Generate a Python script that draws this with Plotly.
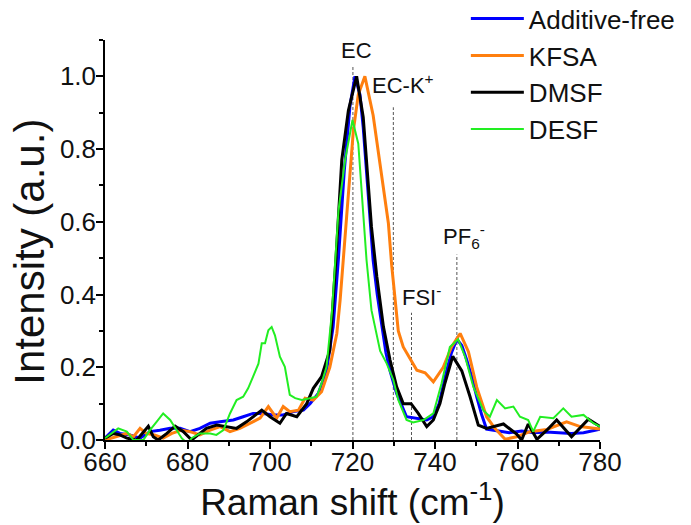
import plotly.graph_objects as go

# ---------------- data ----------------
series_names = ["Additive-free", "KFSA", "DMSF", "DESF"]

af_x = [660, 662, 663.6, 666, 668.5, 670.9, 673.3, 675.8, 678.2, 680.6, 683, 685.5, 687.9, 691.1,
        693.5, 695.9, 698.4, 700.8, 703.2, 705.7, 708.1, 709.7, 711.7, 713.7, 715.3, 716.6, 718,
        719.4, 720.6, 721.8, 722.6, 723.8, 725, 726, 727.1, 728.1, 729.1, 730.7, 733.1, 735.5, 738,
        739.6, 741, 742.8, 744, 745.3, 746.5, 747.7, 749, 750.1, 751.3, 752.5, 755, 758, 761, 764,
        767, 770, 773, 776, 780]
af_y = [0.005, 0.027, 0.018, 0.014, 0.005, 0.023, 0.027, 0.032, 0.032, 0.023, 0.032, 0.046, 0.05,
        0.055, 0.064, 0.073, 0.073, 0.069, 0.069, 0.078, 0.082, 0.10, 0.128, 0.19, 0.311, 0.50, 0.74,
        0.92, 1.0, 0.95, 0.86, 0.678, 0.495, 0.40, 0.31, 0.24, 0.19, 0.128, 0.064, 0.06, 0.055, 0.064,
        0.10, 0.19, 0.24, 0.277, 0.26, 0.22, 0.17, 0.119, 0.07, 0.03, 0.025, 0.02, 0.025, 0.02, 0.022,
        0.02, 0.018, 0.02, 0.03]

kfsa_x = [660, 662.8, 665.3, 666.9, 668.5, 670, 672, 674.1, 676.2, 678.6, 680.6, 683, 685.5, 687.9,
          690.3, 692.7, 695.2, 697.6, 699.6, 701.6, 703.2, 704.8, 706.9, 708.5, 710.5, 712.5, 714.5,
          716.2, 717, 719, 720.2, 721.4, 723, 725, 726.7, 728.7, 729.5, 730.3, 731.1, 732.3, 733.9,
          735.6, 737.6, 739.6, 742, 744, 746.1, 748.1, 750.1, 752.5, 754.5, 757, 759.8, 763, 767.1,
          771.9, 775.2, 779.2, 780]
kfsa_y = [0, 0.009, 0.018, 0.009, 0.032, 0.018, 0.014, 0.005, 0.018, 0.027, 0.023, 0.014, 0.027,
          0.037, 0.023, 0.032, 0.046, 0.06, 0.092, 0.06, 0.092, 0.078, 0.082, 0.115, 0.11, 0.133, 0.20,
          0.293, 0.385, 0.66, 0.85, 0.95, 1.0, 0.893, 0.75, 0.596, 0.48, 0.38, 0.30, 0.256, 0.224,
          0.192, 0.185, 0.16, 0.2, 0.256, 0.293, 0.243, 0.146, 0.064, 0.032, 0.002, 0.009, 0.023,
          0.029, 0.05, 0.037, 0.032, 0.03]

dmsf_x = [660, 662, 663.6, 665.3, 667.7, 670.5, 671.7, 672.9, 675, 677, 679, 681, 683, 684.6, 687.1,
          689.5, 691.9, 694.3, 698, 700, 702.4, 704, 706.5, 708.9, 710.5, 712.5, 714.5, 716, 717.4,
          719, 721, 722.6, 723.4, 724.6, 725.9, 727.5, 729.1, 730.7, 732.3, 734.2, 735.9, 738, 739.6,
          741.2, 742.4, 744.3, 746.5, 748.5, 750.5, 752.5, 756.6, 759.8, 761, 762.6, 764.7, 767.1,
          769.5, 773.1, 777.2, 780]
dmsf_y = [0.005, 0.018, 0.014, 0.005, 0, 0.038, 0.009, 0, 0.018, 0.038, 0.023, 0, 0.018, 0.032,
          0.041, 0.037, 0.032, 0.05, 0.082, 0.064, 0.046, 0.073, 0.064, 0.10, 0.142, 0.174, 0.247,
          0.50, 0.77, 0.906, 1.0, 0.888, 0.77, 0.586, 0.449, 0.311, 0.22, 0.146, 0.10, 0.10, 0.074,
          0.037, 0.055, 0.10, 0.156, 0.23, 0.19, 0.119, 0.041, 0.032, 0.044, 0.016, 0, 0.044, 0.002,
          0.027, 0.055, 0.009, 0.057, 0.037]

desf_x = [660, 663.2, 665.3, 666.9, 669.3, 670.9, 672.5, 674.1, 675.8, 677.4, 678.6, 680, 681, 683,
          685.5, 687, 688.7, 690.3, 691.9, 693.5, 694.7, 695.9, 697.2, 698, 698.8, 699.6, 700.4,
          701.2, 702.4, 703.6, 704.8, 706.1, 707.7, 709.7, 711.3, 712.5, 713.7, 715, 716.6, 718.2,
          720, 721.4, 722.2, 723.4, 724.6, 725.6, 726.7, 728.3, 729.9, 731.1, 733.1, 734.7, 737.2,
          739.6, 741.6, 743.6, 745.6, 747.3, 749.3, 751.7, 753.3, 755, 757, 759, 760.6, 762.6, 763.8,
          765.5, 768.7, 771.1, 773.1, 776, 778.4, 780]
desf_y = [0.005, 0.032, 0.023, 0, 0, 0.027, 0.05, 0.073, 0.055, 0.027, 0.005, -0.01, 0.005, 0.018,
          0.018, 0.014, 0.027, 0.073, 0.11, 0.119, 0.142, 0.174, 0.21, 0.266, 0.266, 0.302, 0.311,
          0.288, 0.229, 0.201, 0.124, 0.115, 0.11, 0.115, 0.119, 0.156, 0.201, 0.35, 0.63, 0.77, 0.88,
          0.815, 0.678, 0.495, 0.357, 0.30, 0.245, 0.21, 0.165, 0.11, 0.055, 0.048, 0.055, 0.073,
          0.156, 0.256, 0.277, 0.229, 0.146, 0.082, 0.064, 0.11, 0.087, 0.092, 0.064, 0.055, 0.023,
          0.064, 0.06, 0.087, 0.064, 0.069, 0.046, 0.037]

# band markers (dashed guide lines) and their labels
band_labels = ["EC", "EC-K<sup>+</sup>", "FSI<sup>-</sup>", "PF<sub>6</sub><sup>-</sup>"]
band_pos = [720.1, 729.9, 734.3, 745.3]
band_top = [1.03, 0.915, 0.35, 0.51]
label_x = [721.0, 732.3, 736.8, 747.0]
label_y = [1.07, 0.98, 0.395, 0.56]

x_ticks = [660, 680, 700, 720, 740, 760, 780]
y_ticks = [0.0, 0.2, 0.4, 0.6, 0.8, 1.0]

# ---------------- figure ----------------
colors = ["#0000FF", "#FF7F0E", "#000000", "#22EE22"]
widths = [3, 3, 3, 2]
xs = [af_x, kfsa_x, dmsf_x, desf_x]
ys = [af_y, kfsa_y, dmsf_y, desf_y]

FONT = "Liberation Sans, Arial, sans-serif"
TXT = "#111111"

fig = go.Figure()
for name, x, y, c, w in zip(series_names, xs, ys, colors, widths):
    fig.add_trace(go.Scatter(x=x, y=y, mode="lines", name=name,
                             line=dict(color=c, width=w)))

for p, t in zip(band_pos, band_top):
    fig.add_shape(type="line", xref="x", yref="y", x0=p, x1=p, y0=0, y1=t,
                  line=dict(color="#555555", width=1, dash="3px,2px"), layer="below")

for lab, lx, ly in zip(band_labels, label_x, label_y):
    fig.add_annotation(x=lx, y=ly, xref="x", yref="y", text=lab, showarrow=False,
                       font=dict(family=FONT, size=22, color=TXT))

fig.update_layout(
    width=691, height=525,
    margin=dict(l=105, r=91, t=40, b=85, autoexpand=False),
    paper_bgcolor="white", plot_bgcolor="white",
    font=dict(family=FONT, color=TXT),
    showlegend=True,
    legend=dict(x=0.729, y=1.112, xanchor="left", yanchor="top",
                bgcolor="rgba(0,0,0,0)", borderwidth=0,
                font=dict(family=FONT, size=26, color=TXT),
                itemwidth=53, tracegroupgap=0),
)

fig.update_xaxes(
    range=[660, 780], tickmode="array", tickvals=x_ticks,
    ticktext=[str(v) for v in x_ticks],
    showline=True, linecolor="black", linewidth=1.5,
    ticks="outside", ticklen=7, tickwidth=1.5, tickcolor="black",
    ticklabelstandoff=-9,
    minor=dict(dtick=10, ticks="outside", ticklen=4, tickwidth=1.5, tickcolor="black", showgrid=False),
    showgrid=False, zeroline=False,
    tickfont=dict(family=FONT, size=26, color=TXT),
    title=dict(text="Raman shift (cm<sup>-1</sup>)", font=dict(family=FONT, size=37, color=TXT),
               standoff=0),
)
fig.update_yaxes(
    range=[0, 1.1], tickmode="array", tickvals=y_ticks,
    ticktext=[f"{v:.1f}" for v in y_ticks],
    showline=True, linecolor="black", linewidth=1.5,
    ticks="outside", ticklen=7, tickwidth=1.5, tickcolor="black",
    ticklabelstandoff=-5,
    minor=dict(dtick=0.1, ticks="outside", ticklen=4, tickwidth=1.5, tickcolor="black", showgrid=False),
    showgrid=False, zeroline=False,
    tickfont=dict(family=FONT, size=26, color=TXT),
    title=dict(text="Intensity (a.u.)&nbsp;&nbsp;", font=dict(family=FONT, size=42, color=TXT),
               standoff=2),
)

fig.write_html("out.html")
